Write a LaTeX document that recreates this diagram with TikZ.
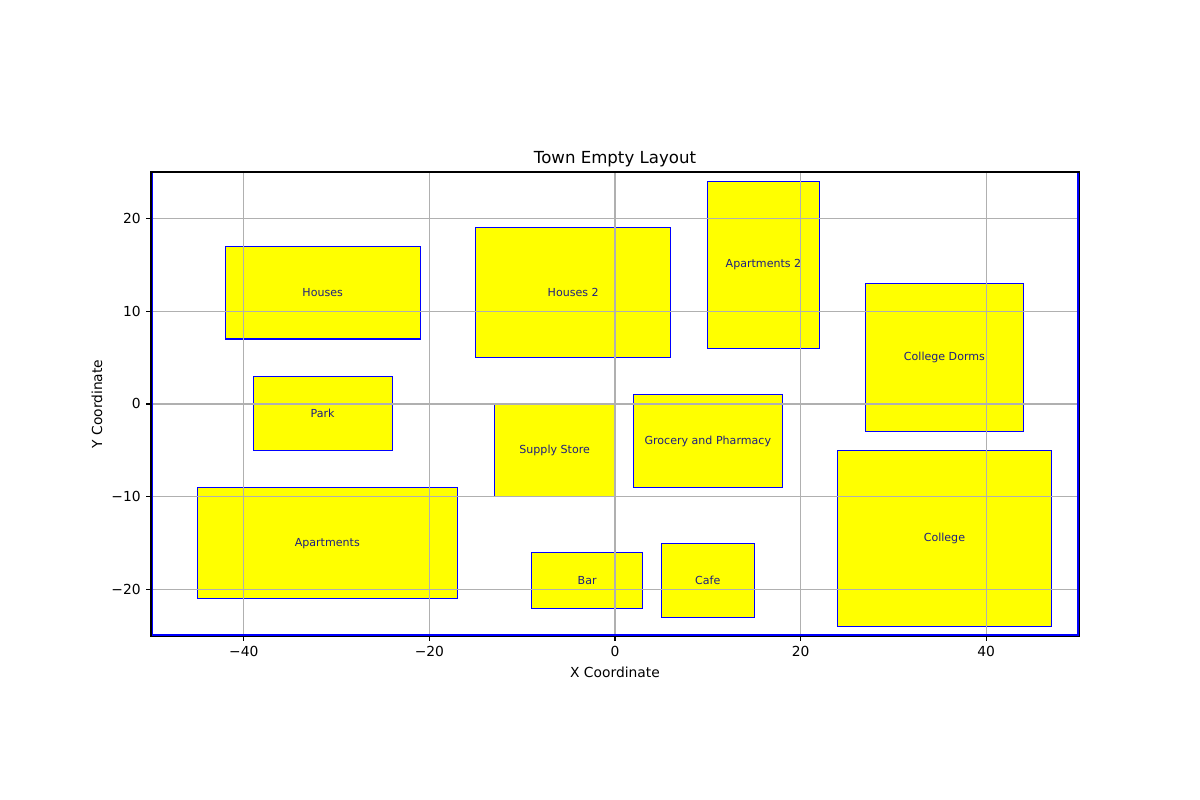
\documentclass[tikz,border=0pt]{standalone}
\usepackage{fontspec}
\setmainfont{DejaVu Sans}
\usepackage{xcolor}
\usepackage{tikz}
\usetikzlibrary{positioning}
\definecolor{lotfill}{HTML}{FFFF00}
\definecolor{lotedge}{HTML}{0000FF}
\definecolor{lottext}{HTML}{1F1F80}
\definecolor{gridgray}{HTML}{B0B0B0}
\tikzset{
  town block/.style={
    draw=lotedge,
    fill=lotfill,
    line width=0.75pt
  },
  block label/.style={
    font=\fontsize{8}{9.6}\selectfont,
    text=lottext,
    inner sep=0pt
  },
  grid line/.style={
    draw=gridgray,
    line width=0.8pt
  },
  spine/.style={
    draw=black,
    line width=0.8pt
  },
  boundary/.style={
    draw=lotedge,
    line width=2.4pt
  },
  tick label/.style={
    font=\fontsize{10}{12}\selectfont,
    inner sep=0pt
  },
  axis label/.style={
    font=\fontsize{10}{12}\selectfont,
    inner sep=0pt
  }
}

\begin{document}
\begin{tikzpicture}[x=0.23571cm, y=0.23571cm]
  \useasboundingbox (-66.27,-42.67) rectangle (63.04,43.53);

  % lots
  \draw[town block] (-42,7) rectangle (-21,17);
  \draw[town block] (-15,5) rectangle (6,19);
  \draw[town block] (10,6) rectangle (22,24);
  \draw[town block] (27,-3) rectangle (44,13);
  \draw[town block] (-39,-5) rectangle (-24,3);
  \draw[town block] (-13,-10) rectangle (0,0);
  \draw[town block] (2,-9) rectangle (18,1);
  \draw[town block] (-45,-21) rectangle (-17,-9);
  \draw[town block] (-9,-22) rectangle (3,-16);
  \draw[town block] (5,-23) rectangle (15,-15);
  \draw[town block] (24,-24) rectangle (47,-5);

  % grid
  \foreach \gx in {-40,-20,0,20,40}
    \draw[grid line] (\gx,-25) -- (\gx,25);
  \foreach \gy in {-20,-10,0,10,20}
    \draw[grid line] (-50,\gy) -- (50,\gy);

  % names
  \node[block label] (houses) at (-31.5,12) {Houses};
  \node[block label] (houses2) at (-4.5,12) {Houses 2};
  \node[block label] (apts2) at (16,15) {Apartments 2};
  \node[block label] (dorms) at (35.5,5) {College Dorms};
  \node[block label] (park) at (-31.5,-1) {Park};
  \node[block label] (supply) at (-6.5,-5) {Supply Store};
  \node[block label] (grocery) at (10,-4) {Grocery and Pharmacy};
  \node[block label] (apts) at (-31,-15) {Apartments};
  \node[block label] (bar) at (-3,-19) {Bar};
  \node[block label] (cafe) at (10,-19) {Cafe};
  \node[block label] (college) at (35.5,-14.5) {College};

  % frame
  \coordinate (ll) at (-50,-25);
  \coordinate (ur) at (50,25);
  \draw[spine] (ll) rectangle (ur);
  \begin{scope}
    \clip (ll) rectangle (ur);
    \draw[boundary] (-50,25) -- (ll) -- (50,-25) -- (ur);
  \end{scope}
  \draw[spine] (ll) -- (-50,25) -- (ur);

  % ticks
  \foreach \gx/\gt in {-40/−40,-20/−20,0/0,20/20,40/40} {
    \draw[spine] (\gx,-25) -- ++(0,-3.5pt);
    \node[tick label] at (\gx,-26.72) {\gt};
  }
  \foreach \gy/\gt in {-20/−20,-10/−10,0/0,10/10,20/20} {
    \draw[spine] (-50,\gy) -- ++(-3.5pt,0);
    \node[tick label, anchor=east] at (-51.08,\gy) {\gt};
  }

  % titles
  \node[font=\fontsize{12}{14.4}\selectfont, inner sep=0pt] (title) at (0,26.4) {Town Empty Layout};
  \node[axis label] (xlab) at (0,-28.88) {X Coordinate};
  \node[axis label, rotate=90] (ylab) at (-55.82,0) {Y Coordinate};
\end{tikzpicture}
\end{document}
